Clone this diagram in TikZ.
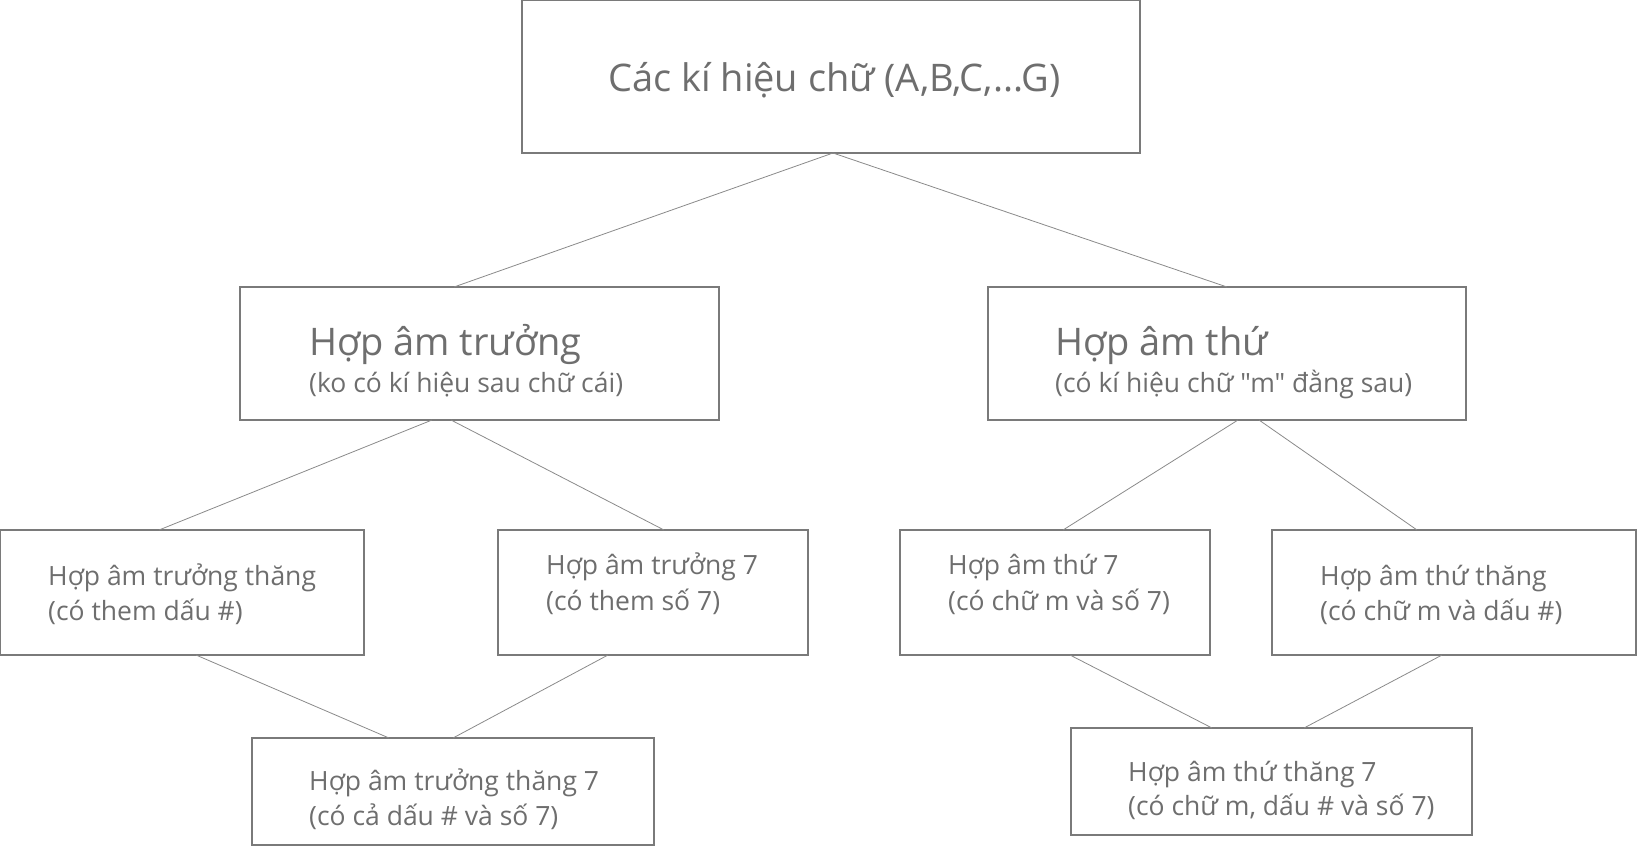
\documentclass[tikz,border=0pt]{standalone}
\usepackage{fontspec}
\setmainfont{Open Sans}[Ligatures=TeXOff]
\usetikzlibrary{calc}
\definecolor{boxgray}{HTML}{7A7A7A}
\definecolor{txtgray}{HTML}{6E6E6E}
\definecolor{linegray}{HTML}{8A8A8A}
\begin{document}
\begin{tikzpicture}[x=1pt,y=-1pt,
  box/.style={draw=boxgray, line width=1.2pt, inner sep=0pt, outer sep=0pt, anchor=north west, fill=white},
  big/.style={text=txtgray, anchor=base west, inner sep=0pt, font=\fontsize{38}{44}\selectfont},
  mid/.style={text=txtgray, anchor=base west, inner sep=0pt, font=\fontsize{26.5}{31}\selectfont},
  conn/.style={draw=linegray, line width=0.8pt}]
\useasboundingbox (0,0) rectangle (1637,846);
% boxes
\node[box, minimum width=618pt, minimum height=153pt] (top) at (522,0) {};
\node[box, minimum width=479pt, minimum height=133pt] (l2a) at (240,287) {};
\node[box, minimum width=478pt, minimum height=133pt] (l2b) at (988,287) {};
\node[box, minimum width=364pt, minimum height=125pt] (a) at (0,530) {};
\node[box, minimum width=310pt, minimum height=125pt] (b) at (498,530) {};
\node[box, minimum width=310pt, minimum height=125pt] (c) at (900,530) {};
\node[box, minimum width=364pt, minimum height=125pt] (d) at (1272,530) {};
\node[box, minimum width=402pt, minimum height=107pt] (e) at (252,738) {};
\node[box, minimum width=401pt, minimum height=107pt] (f) at (1071,728) {};
% texts
\node[big] (ttop) at (608,91) {Các kí hiệu chữ (A,B,C,...G)};
\node[big] (tl2a) at (309,355) {Hợp âm trưởng};
\node[mid] (sl2a) at (309,392) {(ko có kí hiệu sau chữ cái)};
\node[big] (tl2b) at (1055,355) {Hợp âm thứ};
\node[mid] (sl2b) at (1055,392) {(có kí hiệu chữ "m" đằng sau)};
\node[mid] (ta) at (48,585) {Hợp âm trưởng thăng};
\node[mid] (sa) at (48,620) {(có them dấu \#)};
\node[mid] (tb) at (546,574) {Hợp âm trưởng 7};
\node[mid] (sb) at (546,610) {(có them số 7)};
\node[mid] (tc) at (948,574) {Hợp âm thứ 7};
\node[mid] (sc) at (948,610) {(có chữ m và số 7)};
\node[mid] (td) at (1320,585) {Hợp âm thứ thăng};
\node[mid] (sd) at (1320,620) {(có chữ m và dấu \#)};
\node[mid] (te) at (309,790) {Hợp âm trưởng thăng 7};
\node[mid] (se) at (309,825) {(có cả dấu \# và số 7)};
\node[mid] (tf) at (1128,781) {Hợp âm thứ thăng 7};
\node[mid] (sf) at (1128,815) {(có chữ m, dấu \# và số 7)};
% connectors
\draw[conn] ([xshift=2pt]top.south) -- ([xshift=214pt]l2a.north west);
\draw[conn] ([xshift=2pt]top.south) -- ([xshift=239pt]l2b.north west);
\draw[conn] ([xshift=192pt]l2a.south west) -- ([xshift=159pt]a.north west);
\draw[conn] ([xshift=211pt]l2a.south west) -- ([xshift=166pt]b.north west);
\draw[conn] ([xshift=250pt]l2b.south west) -- ([xshift=163pt]c.north west);
\draw[conn] ([xshift=271pt]l2b.south west) -- ([xshift=145pt]d.north west);
\draw[conn] ([xshift=196pt]a.south west) -- ([xshift=137pt]e.north west);
\draw[conn] ([xshift=110pt]b.south west) -- ([xshift=201pt]e.north west);
\draw[conn] ([xshift=170pt]c.south west) -- ([xshift=141pt]f.north west);
\draw[conn] ([xshift=170pt]d.south west) -- ([xshift=233pt]f.north west);
\end{tikzpicture}
\end{document}
